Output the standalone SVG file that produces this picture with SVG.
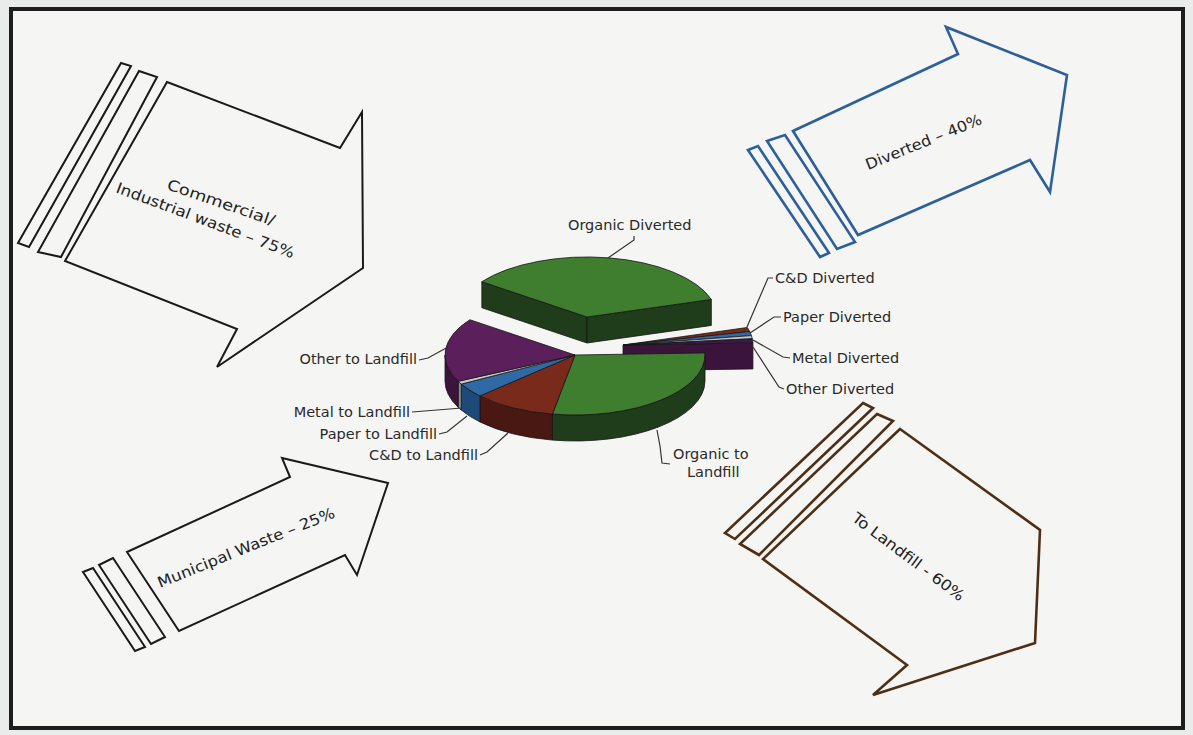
<svg xmlns="http://www.w3.org/2000/svg" width="1193" height="735" viewBox="0 0 1193 735">
<defs>
<style>
.lbl{font-family:"DejaVu Sans",Verdana,sans-serif;font-size:14.5px;fill:#2a2a2a}
.atx{font-family:"DejaVu Sans",Verdana,sans-serif;font-size:15px;fill:#222}
.ld{fill:none;stroke:#333;stroke-width:1.2}
.ablk{fill:none;stroke:#1a1a1a;stroke-width:2}
.ablu{fill:none;stroke:#2d5f9a;stroke-width:2.6}
.abrn{fill:none;stroke:#4e2f15;stroke-width:2.6}
.pe{stroke:#151515;stroke-width:0.8;stroke-linejoin:round}
.gT{fill:#3f7d2f}.gS{fill:#1f3d1a}
.rT{fill:#7a2a1b}.rS{fill:#4a1812}
.bT{fill:#2f6aa6}.bS{fill:#1e4a7a}
.mT{fill:#c9c9c9}.mS{fill:#8c8c8c}
.pT{fill:#5b1f5b}.pS{fill:#3a143a}
</style>
</defs>
<rect x="0" y="0" width="1193" height="735" fill="#e9ecea"/>
<rect x="11" y="9" width="1172" height="719" fill="#f5f5f3" stroke="#1e1e1e" stroke-width="4"/>

<!-- Arrows -->
<g id="arrow-commercial">
<polygon class="ablk" points="121,63 131,66 29,247 18,243"/>
<polygon class="ablk" points="139,71 157,77 61,257 38,252"/>
<polygon class="ablk" points="167,82 340,148 362,112 363,268 217,367 237,329 65,261"/>
<text class="atx" transform="translate(166,189) rotate(19)" textLength="113" lengthAdjust="spacingAndGlyphs">Commercial/</text>
<text class="atx" transform="translate(115,192) rotate(20.5)" textLength="189" lengthAdjust="spacingAndGlyphs">Industrial waste – 75%</text>
</g>

<g id="arrow-municipal">
<polygon class="ablk" points="83,572 93,568 145,647 135,651"/>
<polygon class="ablk" points="99,565 113,558 165,637 151,644"/>
<polygon class="ablk" points="127,552 290,477 282,458 388,483 357,575 345,555 179,631"/>
<text class="atx" transform="translate(160,588) rotate(-22)" textLength="190" lengthAdjust="spacingAndGlyphs">Municipal Waste – 25%</text>
</g>

<g id="arrow-diverted">
<polygon class="ablu" points="748,150 758,146 829,253 820,257"/>
<polygon class="ablu" points="767,141 785,135 855,242 837,249"/>
<polygon class="ablu" points="793,131 958,54 946,27 1067,75 1050,192 1030,160 858,235"/>
<text class="atx" transform="translate(868,170) rotate(-22)" textLength="124" lengthAdjust="spacingAndGlyphs">Diverted – 40%</text>
</g>

<g id="arrow-landfill">
<polygon class="abrn" points="863,403 873,408 735,539 725,533"/>
<polygon class="abrn" points="877,414 893,421 759,555 740,544"/>
<polygon class="abrn" points="900,429 1040,530 1035,643 873,695 907,665 763,559"/>
<text class="atx" transform="translate(851,520) rotate(37)" textLength="136" lengthAdjust="spacingAndGlyphs">To Landfill - 60%</text>
</g>

<!-- Pie chart -->
<g id="pie">
<g id="slice-organic-diverted">
<path class="pe gS" d="M587,317 L481.83,281.73 L481.83,307.73 L587,343 Z"/>
<path class="pe gS" d="M587,317 L711.32,299.46 L711.32,325.46 L587,343 Z"/>
<path class="pe gT" d="M587,317 L481.83,281.73 A130,60 0 0 1 711.32,299.46 Z"/>
</g>
<g id="slices-small-diverted">
<path class="pe pS" d="M623,345 L752.92,342.91 L752.92,368.91 L623,371 Z"/>
<path class="pe rT" d="M623,345 L747.32,327.46 A130,60 0 0 1 749.67,331.5 Z"/>
<path class="pe bT" d="M623,345 L749.67,331.5 A130,60 0 0 1 751.4,335.61 Z"/>
<path class="pe mT" d="M623,345 L751.4,335.61 A130,60 0 0 1 752.29,338.73 Z"/>
<path class="pe" fill="#3b1a48" d="M623,345 L752.29,338.73 A130,60 0 0 1 752.92,342.91 Z"/>
</g>
<g id="slices-landfill">
<path class="pe gS" d="M705,355 A130,60 0 0 1 552.43,414.09 L552.43,440.09 A130,60 0 0 0 705,381 Z"/>
<path class="pe rS" d="M552.43,414.09 A130,60 0 0 1 479.92,395.92 L479.92,421.92 A130,60 0 0 0 552.43,440.09 Z"/>
<path class="pe bS" d="M479.92,395.92 A130,60 0 0 1 461.3,384.09 L461.3,410.09 A130,60 0 0 0 479.92,421.92 Z"/>
<path class="pe mS" d="M461.3,384.09 A130,60 0 0 1 458.16,381.3 L458.16,407.3 A130,60 0 0 0 461.3,410.09 Z"/>
<path class="pe pS" d="M458.16,381.3 A130,60 0 0 1 445,355 L445,381 A130,60 0 0 0 458.16,407.3 Z"/>
<path class="pe gT" d="M575,355 L704.92,352.91 A130,60 0 0 1 552.43,414.09 Z"/>
<path class="pe rT" d="M575,355 L552.43,414.09 A130,60 0 0 1 479.92,395.92 Z"/>
<path class="pe bT" d="M575,355 L479.92,395.92 A130,60 0 0 1 461.3,384.09 Z"/>
<path class="pe mT" d="M575,355 L461.3,384.09 A130,60 0 0 1 458.16,381.3 Z"/>
<path class="pe pT" d="M575,355 L458.16,381.3 A130,60 0 0 1 469.83,319.73 Z"/>
</g>
</g>

<!-- Leader lines -->
<g id="connectors">
<polyline class="ld" points="634,236 634,240 608,258"/>
<polyline class="ld" points="773,278 768,278 747,327"/>
<polyline class="ld" points="781,317 774,317 750,333"/>
<polyline class="ld" points="790,358 783,357 753,340"/>
<polyline class="ld" points="784,389 779,387 753,347"/>
<polyline class="ld" points="419,360 428,358 448,347"/>
<polyline class="ld" points="412,412 462,408"/>
<polyline class="ld" points="439,434 447,432 467,416"/>
<polyline class="ld" points="480,455 487,452 508,433"/>
<polyline class="ld" points="657,430 660,446 662,463 670,464"/>
</g>

<!-- Labels -->
<g id="labels">
<text class="lbl" x="568" y="230">Organic Diverted</text>
<text class="lbl" x="775" y="283">C&amp;D Diverted</text>
<text class="lbl" x="783" y="322">Paper Diverted</text>
<text class="lbl" x="792" y="363">Metal Diverted</text>
<text class="lbl" x="786" y="394">Other Diverted</text>
<text class="lbl" x="417" y="364" text-anchor="end">Other to Landfill</text>
<text class="lbl" x="410" y="417" text-anchor="end">Metal to Landfill</text>
<text class="lbl" x="437" y="439" text-anchor="end">Paper to Landfill</text>
<text class="lbl" x="478" y="460" text-anchor="end">C&amp;D to Landfill</text>
<text class="lbl" x="673" y="459">Organic to</text>
<text class="lbl" x="687" y="477">Landfill</text>
</g>
</svg>
